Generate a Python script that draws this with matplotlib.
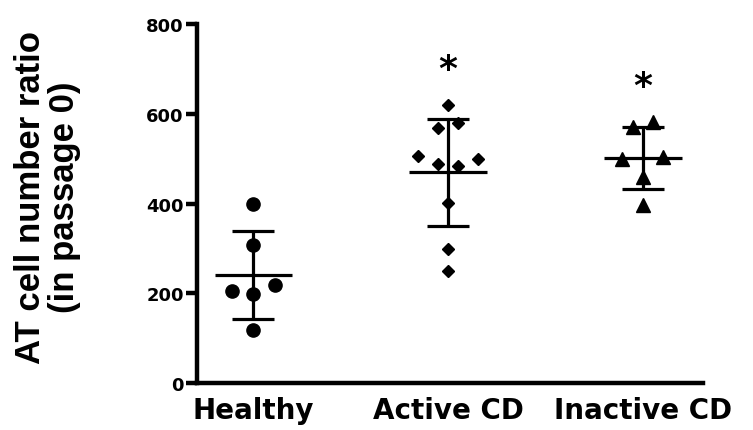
import matplotlib
matplotlib.use("Agg")
import matplotlib.pyplot as plt
import numpy as np

# values
groups = ["Healthy", "Active CD", "Inactive CD"]
healthy = [399, 308, 205, 198, 218, 119]
active_cd = [619, 568, 579, 505, 488, 484, 499, 401, 298, 250]
inactive_cd = [570, 581, 499, 503, 459, 396]
significant = [False, True, True]
y_ticks = [0, 200, 400, 600, 800]

# horizontal scatter of overlapping points (x units)
healthy_dx = [0, 0, -0.11, 0, 0.11, 0]
active_dx = [0, -0.05, 0.05, -0.155, -0.05, 0.05, 0.155, 0, 0, 0]
inactive_dx = [-0.05, 0.055, -0.105, 0.105, 0, 0]

markers = ["o", "D", "^"]
marker_sizes = [9.5, 6.6, 9.5]

fig = plt.figure(figsize=(7.53, 4.31), dpi=100)
ax = fig.add_axes([0.2616, 0.109, 0.672, 0.833])

series = [healthy, active_cd, inactive_cd]
offsets = [healthy_dx, active_dx, inactive_dx]

for i, (vals, dx) in enumerate(zip(series, offsets)):
    x0 = i + 1
    vals = np.asarray(vals, dtype=float)
    xs = x0 + np.asarray(dx)
    mean = vals.mean()
    sd = vals.std(ddof=1)
    ax.plot(xs, vals, linestyle="none", marker=markers[i], ms=marker_sizes[i],
            color="black", zorder=3)
    ax.hlines(mean, x0 - 0.2, x0 + 0.2, color="black", lw=2.3, zorder=2)
    ax.errorbar(x0, mean, yerr=sd, fmt="none", ecolor="black", elinewidth=2.3,
                capsize=15, capthick=2.3, zorder=2)
    if significant[i]:
        top = vals.max()
        ax.text(x0, top + 58, "*", ha="center", va="baseline",
                fontsize=26, fontweight="bold", family="DejaVu Sans")

ax.set_xlim(0.71, 3.31)
ax.set_ylim(0, 800)
ax.set_xticks([1, 2, 3])
ax.set_xticklabels(groups, fontsize=20, fontweight="bold", family="DejaVu Sans")
ax.set_yticks(y_ticks)
ax.set_yticklabels([str(t) for t in y_ticks], fontsize=13, fontweight="bold",
                   family="DejaVu Sans")
ax.tick_params(axis="x", length=0, pad=9)
ax.tick_params(axis="y", length=8, width=3.2, pad=1.5)

for side in ["top", "right"]:
    ax.spines[side].set_visible(False)
for side in ["left", "bottom"]:
    ax.spines[side].set_linewidth(3.2)

ax.set_ylabel("AT cell number ratio\n(in passage 0)", fontsize=25,
              fontweight="bold", family="Liberation Sans", linespacing=1.05)
ax.yaxis.set_label_coords(-0.229, 0.52)

fig.savefig("out.png", dpi=100)
